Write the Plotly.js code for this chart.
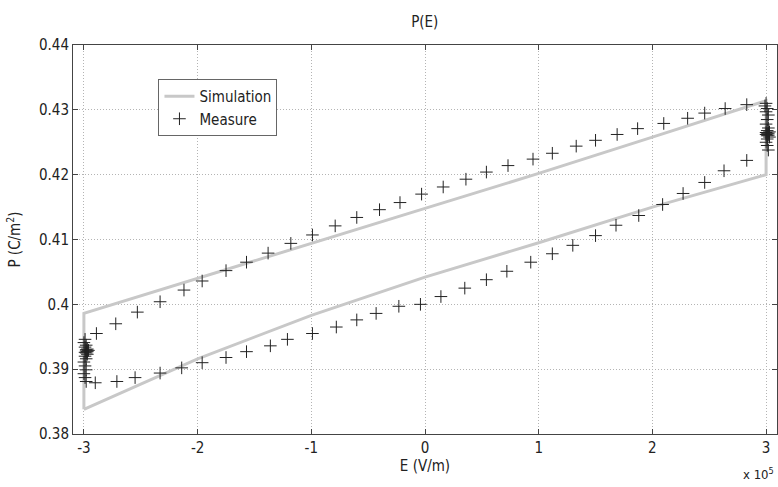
<!DOCTYPE html>
<html>
<head>
<meta charset="utf-8">
<script src="https://cdn.plot.ly/plotly-3.0.1.min.js"></script>
<style>html,body{margin:0;padding:0;background:#fff;}#chart{width:778px;height:487px;}</style>
</head>
<body>
<div id="chart"></div>
<script>
// Simulation loop (E in units of 1e5 V/m, P in C/m^2)
const simE = [-3, -2, -1, 0, 1, 2, 3, 3, 2, 1, 0, -1, -2, -3, -3];
const simP = [0.3838, 0.3916, 0.3983, 0.4042, 0.4095, 0.4150, 0.4200,
              0.4314, 0.4258, 0.4202, 0.4148, 0.4094, 0.4040, 0.3986, 0.3838];

// Measured points: upper branch (decreasing field)
const upE = [2.83, 2.64, 2.46, 2.31, 2.10, 1.87, 1.69, 1.50, 1.33, 1.12, 0.95, 0.73, 0.54, 0.36, 0.16, -0.03,
             -0.22, -0.40, -0.60, -0.79, -0.99, -1.18, -1.38, -1.57, -1.75, -1.96, -2.12, -2.33, -2.53, -2.72, -2.89];
const upP = [0.4308, 0.4302, 0.4295, 0.4287, 0.4279, 0.4271, 0.4262, 0.4253, 0.4244, 0.4233, 0.4224, 0.4214, 0.4204, 0.4193, 0.4181, 0.4170,
             0.4157, 0.4146, 0.4134, 0.4121, 0.4107, 0.4094, 0.4079, 0.4065, 0.4052, 0.4036, 0.4022, 0.4004, 0.3988, 0.3970, 0.3955];
// Measured points: lower branch (increasing field)
const loE = [-2.90, -2.71, -2.55, -2.33, -2.14, -1.96, -1.75, -1.57, -1.36, -1.21, -0.99, -0.78, -0.60, -0.43, -0.23, -0.04,
             0.14, 0.35, 0.54, 0.72, 0.93, 1.12, 1.30, 1.50, 1.68, 1.88, 2.09, 2.27, 2.46, 2.63, 2.83];
const loP = [0.3879, 0.3881, 0.3887, 0.3894, 0.3902, 0.3910, 0.3918, 0.3927, 0.3936, 0.3946, 0.3955, 0.3965, 0.3976, 0.3986, 0.3997, 0.4000,
             0.4012, 0.4025, 0.4038, 0.4051, 0.4065, 0.4078, 0.4091, 0.4106, 0.4122, 0.4137, 0.4154, 0.4171, 0.4188, 0.4206, 0.4222];
// Measured points: clusters at the field extremes
const leftE = [-2.99, -3.00, -2.98, -2.99, -2.97, -2.98, -2.96, -2.98, -2.97, -2.99, -2.98, -2.97, -2.99, -2.98, -3.00, -2.99, -2.98, -3.00, -2.99, -2.98];
const leftP = [0.3946, 0.3941, 0.3937, 0.3934, 0.3931, 0.3930, 0.3929, 0.3928, 0.3927, 0.3926, 0.3925, 0.3923, 0.3920, 0.3916, 0.3911, 0.3905, 0.3899, 0.3893, 0.3887, 0.3881];
const rightE = [3.00, 2.99, 3.01, 3.00, 3.02, 3.01, 3.00, 3.02, 3.01, 3.03, 3.00, 3.02, 3.01, 3.00, 3.02, 3.01, 3.03, 3.01, 3.00, 3.01, 3.02];
const rightP = [0.4310, 0.4306, 0.4302, 0.4297, 0.4292, 0.4285, 0.4278, 0.4272, 0.4268, 0.4266, 0.4265, 0.4264, 0.4263, 0.4262, 0.4261, 0.4260, 0.4258, 0.4255, 0.4250, 0.4245, 0.4238];

const measE = upE.concat(leftE, loE, rightE);
const measP = upP.concat(leftP, loP, rightP);

const xTicks = [-3, -2, -1, 0, 1, 2, 3];
const xTickText = ['-3', '-2', '-1', '0', '1', '2', '3'];
const yTicks = [0.38, 0.39, 0.40, 0.41, 0.42, 0.43, 0.44];
const yTickText = ['0.38', '0.39', '0.4', '0.41', '0.42', '0.43', '0.44'];

const FONT = '"Liberation Sans Narrow", "DejaVu Sans Condensed", "Roboto Condensed", sans-serif';

const traces = [
  {
    x: simE, y: simP, type: 'scatter', mode: 'lines', name: 'Simulation',
    line: {color: '#c8c8c8', width: 3}
  },
  {
    x: measE, y: measP, type: 'scatter', mode: 'markers', name: 'Measure',
    marker: {symbol: 'cross-thin', size: 9, color: '#222', line: {color: '#222', width: 1}}
  }
];

const axisCommon = {
  showline: true, linecolor: '#444', linewidth: 1, mirror: 'ticks',
  ticks: 'inside', ticklen: 5, tickcolor: '#444',
  showgrid: true, gridcolor: '#b4b4b4', griddash: '1px,2px', gridwidth: 1,
  zeroline: false, tickfont: {family: FONT, size: 15, color: '#222'}
};

const layout = {
  width: 778, height: 487,
  margin: {l: 72.5, r: 1.3, t: 45, b: 53},
  paper_bgcolor: '#fff', plot_bgcolor: '#fff',
  font: {family: FONT, color: '#222'},
  title: {text: 'P(E)', font: {family: FONT, size: 15, color: '#222'}, x: 0.546, xanchor: 'center', y: 0.955, yanchor: 'middle'},
  xaxis: Object.assign({}, axisCommon, {
    range: [-3.096, 3.096], tickvals: xTicks, ticktext: xTickText,
    title: {text: 'E (V/m)', font: {family: FONT, size: 15, color: '#222'}, standoff: 2}
  }),
  yaxis: Object.assign({}, axisCommon, {
    range: [0.38, 0.44], tickvals: yTicks, ticktext: yTickText,
    title: {text: 'P (C/m<sup>2</sup>)', font: {family: FONT, size: 15, color: '#222'}, standoff: 14}
  }),
  legend: {
    x: 0.1214, y: 0.9126, xanchor: 'left', yanchor: 'top',
    bgcolor: '#fff', bordercolor: '#666', borderwidth: 1,
    font: {family: FONT, size: 15, color: '#222'},
    tracegroupgap: 0, itemwidth: 30
  },
  showlegend: true,
  annotations: [
    {text: 'x 10<sup>5</sup>', xref: 'paper', yref: 'paper', x: 0.999, y: -0.128, xanchor: 'right', yanchor: 'bottom',
     showarrow: false, font: {family: FONT, size: 13, color: '#222'}}
  ]
};

Plotly.newPlot('chart', traces, layout, {displayModeBar: false, staticPlot: true});
</script>
</body>
</html>
